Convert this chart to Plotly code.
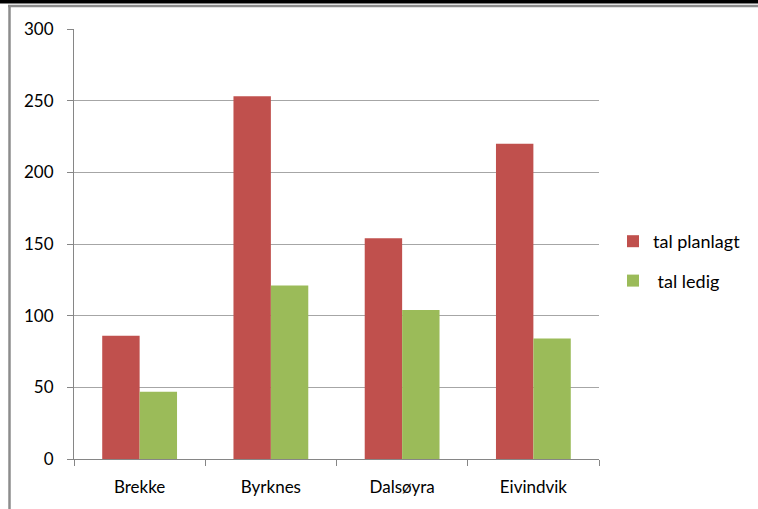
import plotly.graph_objects as go

categories = ["Brekke", "Byrknes", "Dalsøyra", "Eivindvik"]
tal_planlagt = [86, 253, 154, 220]
tal_ledig = [47, 121, 104, 84]
series_names = ["tal planlagt", " tal ledig"]
y_ticks = [0, 50, 100, 150, 200, 250, 300]

W, H = 758, 509
L, T = 74, 29
R = W - 599
B = H - 459
pw = W - L - R
ph = H - T - B

def px(x):
    return (x - L) / pw

def py(y):
    return (H - B - y) / ph

fig = go.Figure()
fig.add_trace(go.Bar(x=categories, y=tal_planlagt, name=series_names[0],
                     marker=dict(color="#C0504D", line=dict(width=0)), legendgroup="a"))
fig.add_trace(go.Bar(x=categories, y=tal_ledig, name=series_names[1],
                     marker=dict(color="#9BBB59", line=dict(width=0)), legendgroup="b"))

font = dict(family="Lato, Open Sans, sans-serif", size=17, color="#000000")

fig.update_layout(
    width=W, height=H,
    margin=dict(l=L, r=R, t=T, b=B),
    paper_bgcolor="white", plot_bgcolor="white",
    barmode="group", bargap=0.43, bargroupgap=0,
    font=font,
    legend=dict(x=px(613), y=py(223), xanchor="left", yanchor="top",
                font=dict(family="Lato, Open Sans, sans-serif", size=18, color="#000"),
                tracegroupgap=13, traceorder="grouped", bgcolor="rgba(0,0,0,0)",
                itemwidth=30),
    xaxis=dict(showline=True, linecolor="#868686", linewidth=1,
               ticks="outside", ticklen=6, tickcolor="#868686", tickson="boundaries",
               showgrid=False, tickfont=dict(family="Lato, Open Sans, sans-serif", size=17, color="#000"),
               ticklabelstandoff=13),
    yaxis=dict(range=[0, 300], tickvals=y_ticks, showline=True, linecolor="#868686", linewidth=1,
               ticks="outside", ticklen=6, tickcolor="#868686",
               showgrid=True, gridcolor="#A6A6A6", gridwidth=1, zeroline=False,
               tickfont=font, ticklabelstandoff=10),
    shapes=[
        dict(type="rect", xref="paper", yref="paper", x0=px(-5), x1=px(770), y0=py(-5), y1=py(3.5),
             fillcolor="#000000", line=dict(width=0), layer="above"),
        dict(type="line", xref="paper", yref="paper", x0=px(8), x1=px(770), y0=py(6), y1=py(6),
             line=dict(color="#8C8C8C", width=2.5), layer="above"),
        dict(type="line", xref="paper", yref="paper", x0=px(9.5), x1=px(9.5), y0=py(6), y1=py(520),
             line=dict(color="#8C8C8C", width=2.5), layer="above"),
    ],
)

fig.write_html("out.html", config={"displayModeBar": False},
               post_script="document.body.style.margin='0';document.body.style.overflow='hidden';")
